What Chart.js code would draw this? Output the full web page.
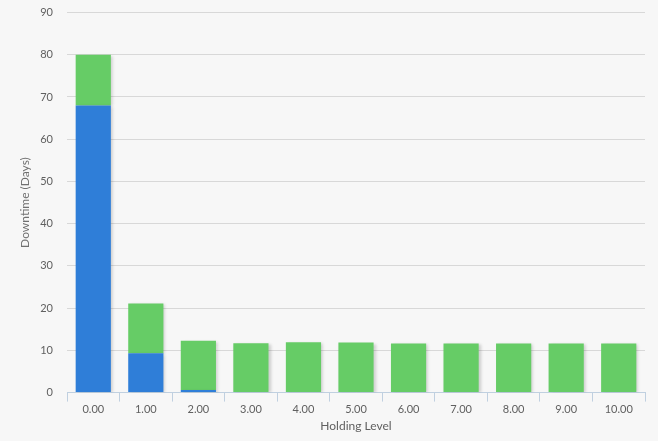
<!DOCTYPE html>
<html lang="en">
<head>
  <meta charset="UTF-8">
  <title>Downtime by Holding Level</title>
  <script src="https://cdn.jsdelivr.net/npm/chart.js"></script>
  <style>
    body { margin: 0; background: #f7f7f7; }
  </style>
</head>
<body>
  <canvas id="chart" width="658" height="441"></canvas>

  <script>
    // Data
    const levels = ['0.00', '1.00', '2.00', '3.00', '4.00', '5.00', '6.00', '7.00', '8.00', '9.00', '10.00'];
    const blueValues = [68, 9.3, 0.6, 0, 0, 0, 0, 0, 0, 0, 0];
    const greenValues = [12, 11.8, 11.7, 11.7, 11.9, 11.85, 11.65, 11.65, 11.65, 11.65, 11.65];
    const yTicks = [0, 10, 20, 30, 40, 50, 60, 70, 80, 90];

    // soft shadow behind bars, like the original
    const barShadow = {
      id: 'barShadow',
      beforeDatasetsDraw(chart) {
        const ctx = chart.ctx;
        ctx.save();
        ctx.shadowColor = 'rgba(0,0,0,0.18)';
        ctx.shadowOffsetX = 2;
        ctx.shadowOffsetY = 1;
        ctx.shadowBlur = 3;
      },
      afterDatasetsDraw(chart) {
        chart.ctx.restore();
      }
    };

    const labelFont = { family: 'Lato, "Open Sans", sans-serif', size: 11, lineHeight: 1 };

    const ctx = document.getElementById('chart').getContext('2d');
    new Chart(ctx, {
      type: 'bar',
      data: {
        labels: levels,
        datasets: [
          {
            label: 'Blue',
            data: blueValues,
            backgroundColor: '#2f7ed8',
            borderWidth: 0,
            barPercentage: 0.67,
            categoryPercentage: 1
          },
          {
            label: 'Green',
            data: greenValues,
            backgroundColor: '#66cc66',
            borderWidth: 0,
            barPercentage: 0.67,
            categoryPercentage: 1
          }
        ]
      },
      options: {
        responsive: false,
        animation: false,
        layout: { padding: { top: 12.5, right: 13, left: 18, bottom: 4 } },
        plugins: {
          legend: { display: false },
          tooltip: { enabled: false }
        },
        scales: {
          x: {
            stacked: true,
            grid: {
              offset: true,
              drawOnChartArea: false,
              color: '#c0d0e0',
              tickLength: 9
            },
            border: { color: '#c0d0e0' },
            ticks: { color: '#606060', font: labelFont, padding: 2 },
            title: {
              display: true,
              text: 'Holding Level',
              color: '#606060',
              font: { family: 'Lato, "Open Sans", sans-serif', size: 12 },
              padding: { top: 2 }
            }
          },
          y: {
            stacked: true,
            min: 0,
            max: 90,
            afterBuildTicks(axis) {
              axis.ticks = yTicks.map(v => ({ value: v }));
            },
            afterFit(axis) {
              axis.width = 49;
              axis.paddingTop = 0;
              axis.paddingBottom = 0;
            },
            grid: { color: '#d8d8d8', drawTicks: false },
            border: { display: false },
            ticks: { color: '#606060', font: labelFont, padding: 14 },
            title: {
              display: true,
              text: 'Downtime (Days)',
              color: '#707070',
              font: { family: 'Lato, "Open Sans", sans-serif', size: 12 },
              padding: { top: 0, bottom: 0 }
            }
          }
        }
      },
      plugins: [barShadow]
    });
  </script>
</body>
</html>
